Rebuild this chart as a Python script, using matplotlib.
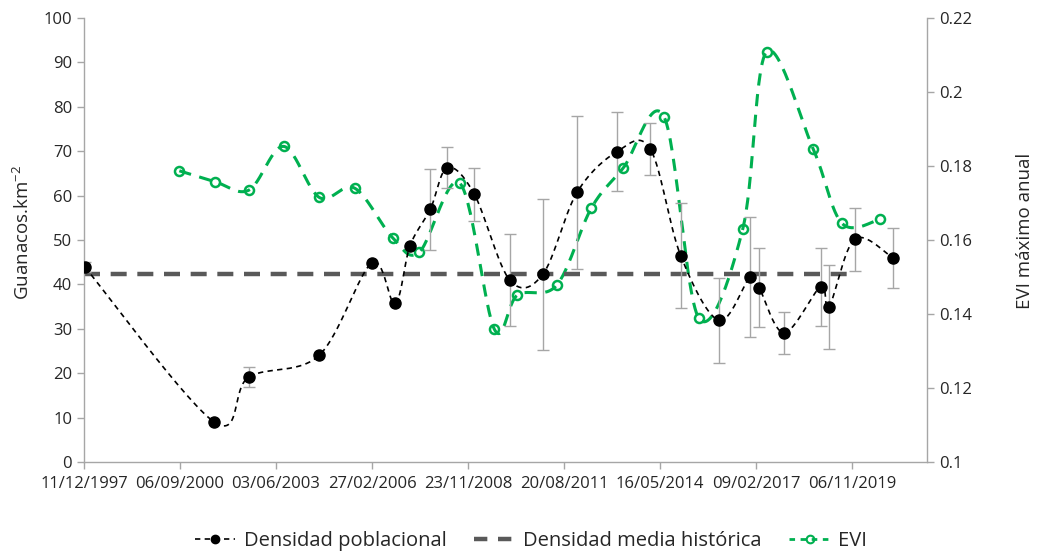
import numpy as np
import pandas as pd
import matplotlib
matplotlib.use("Agg")
import matplotlib.pyplot as plt
from matplotlib.lines import Line2D
from matplotlib.ticker import FixedLocator, FuncFormatter

plt.rcParams['font.family'] = ['Open Sans', 'DejaVu Sans']
plt.rcParams['mathtext.fontset'] = 'custom'
plt.rcParams['mathtext.rm'] = 'Open Sans'
plt.rcParams['mathtext.default'] = 'regular'

# ---- data ----
dens_dates = ['1997-12-21', '2001-08-29', '2002-08-22', '2004-08-24', '2006-02-24',
              '2006-10-25', '2007-03-30', '2007-10-27', '2008-04-22', '2009-01-28',
              '2010-01-31', '2011-01-12', '2012-01-02', '2013-02-22', '2014-02-04',
              '2014-12-17', '2016-01-20', '2016-12-08', '2017-03-12', '2017-11-30',
              '2018-12-15', '2019-03-11', '2019-12-04', '2021-01-03']
dens_values = [43.9, 9.0, 19.1, 24.0, 44.8, 35.7, 48.7, 56.9, 66.3, 60.3,
               41.0, 42.3, 60.7, 69.9, 70.5, 46.5, 31.9, 41.6, 39.3, 29.1,
               39.5, 34.9, 50.2, 46.0]
dens_err = [1.2, 0, 2.3, 0, 0, 0, 0, 9.2, 4.7, 6.0,
            10.3, 17.0, 17.3, 8.9, 5.9, 11.9, 9.5, 13.5, 8.8, 4.7,
            8.8, 9.4, 7.1, 6.8]

evi_dates = ['2000-08-30', '2001-09-02', '2002-08-26', '2003-08-22', '2004-08-27',
             '2005-08-31', '2006-09-30', '2007-07-04', '2008-09-01', '2009-08-24',
             '2010-04-21', '2011-06-05', '2012-05-30', '2013-04-29', '2014-06-27',
             '2015-06-26', '2016-09-23', '2017-05-30', '2018-09-29', '2019-07-25',
             '2020-08-24']
evi_values = [0.1787, 0.1758, 0.1735, 0.1853, 0.1715, 0.1740, 0.1606, 0.1567, 0.1753, 0.1359,
              0.1451, 0.1478, 0.1686, 0.1795, 0.1933, 0.1388, 0.1629, 0.2109, 0.1845, 0.1645,
              0.1656]

mean_dates = ['1997-12-11', '2019-09-29']
mean_value = 42.3

xtick_dates = ['1997-12-11', '2000-09-06', '2003-06-03', '2006-02-27', '2008-11-23',
               '2011-08-20', '2014-05-16', '2017-02-09', '2019-11-06']
x_end_date = '2021-12-26'

# ---- helpers ----
EXCEL0 = pd.Timestamp('1899-12-30')
def serial(dates):
    return np.array([(pd.Timestamp(d) - EXCEL0).days for d in dates], dtype=float)

def smooth(x, y, xr, yr, W, H, n=30):
    # Catmull-Rom style Bezier spline in screen space (Excel "smoothed line")
    px = (np.asarray(x) - xr[0]) / (xr[1] - xr[0]) * W
    py = (np.asarray(y) - yr[0]) / (yr[1] - yr[0]) * H
    P = np.column_stack([px, py])
    P = np.vstack([P[0], P, P[-1]])
    out = []
    for i in range(1, len(P) - 2):
        p0, p1, p2, p3 = P[i - 1], P[i], P[i + 1], P[i + 2]
        c1 = p1 + (p2 - p0) / 6.0
        c2 = p2 - (p3 - p1) / 6.0
        t = np.linspace(0, 1, n)[:, None]
        seg = ((1 - t) ** 3) * p1 + 3 * ((1 - t) ** 2) * t * c1 + 3 * (1 - t) * t ** 2 * c2 + t ** 3 * p2
        out.append(seg if i == 1 else seg[1:])
    S = np.vstack(out)
    sx = S[:, 0] / W * (xr[1] - xr[0]) + xr[0]
    sy = S[:, 1] / H * (yr[1] - yr[0]) + yr[0]
    return sx, sy

# ---- figure ----
fig = plt.figure(figsize=(10.39, 5.57), dpi=100)
ax = fig.add_axes([84 / 1039, 1 - 462 / 557, (927 - 84) / 1039, (462 - 18) / 557])
ax2 = ax.twinx()

xt = serial(xtick_dates)
xr = (xt[0], serial([x_end_date])[0])
yr1 = (0, 100)
yr2 = (0.1, 0.22)
W, H = 843, 444

GRAY_AX = '#A6A6A6'
GREEN = '#00B050'
TXT = '#262626'

dx = serial(dens_dates)
dv = np.array(dens_values)
de = np.array(dens_err)
ex = serial(evi_dates)
ev = np.array(evi_values)
mx = serial(mean_dates)

# mean line
ax.plot(mx, [mean_value, mean_value], color='#595959', lw=3.2, dashes=(3.6, 2.4), zorder=2)

# density smoothed line
sx, sy = smooth(dx, dv, xr, yr1, W, H)
ax.plot(sx, sy, color='black', lw=1.2, dashes=(3.2, 2.6), zorder=3)
m = de > 0
ax.errorbar(dx[m], dv[m], yerr=de[m], fmt='none', ecolor=GRAY_AX, elinewidth=1.0,
            capsize=4, capthick=1.0, zorder=2.5)
ax.plot(dx, dv, 'o', color='black', ms=8, zorder=4)

# EVI
sx2, sy2 = smooth(ex, ev, xr, yr2, W, H)
ax2.plot(sx2, sy2, color=GREEN, lw=2.2, dashes=(4.0, 2.8), zorder=3)
ax2.plot(ex, ev, 'o', mfc='none', mec=GREEN, mew=1.8, ms=6.5, zorder=4)

ax.set_zorder(ax2.get_zorder() + 1)
ax.patch.set_visible(False)

ax.set_xlim(*xr)
ax.set_ylim(*yr1)
ax2.set_ylim(*yr2)

ax.xaxis.set_major_locator(FixedLocator(xt))
ax.xaxis.set_major_formatter(FuncFormatter(lambda v, p: (EXCEL0 + pd.Timedelta(days=int(round(v)))).strftime('%d/%m/%Y')))
ax.set_yticks(np.arange(0, 101, 10))
ax2.set_yticks(np.round(np.arange(0.10, 0.2201, 0.02), 2))
ax2.yaxis.set_major_formatter(FuncFormatter(lambda v, p: f'{v:g}'))

for a in (ax, ax2):
    for s in a.spines.values():
        s.set_color(GRAY_AX)
        s.set_linewidth(1.0)
    a.spines['top'].set_visible(False)
    a.tick_params(colors=GRAY_AX, labelcolor=TXT, labelsize=12, length=5, width=1.0)
ax.spines['right'].set_visible(False)
ax2.spines['left'].set_visible(False)
ax2.spines['bottom'].set_visible(False)
ax.tick_params(axis='x', pad=5)

ax.set_ylabel('Guanacos.km$^{-2}$', fontsize=13.5, color=TXT)
ax.yaxis.set_label_coords(-0.0605, 0.518)
ax2.set_ylabel('EVI máximo anual', fontsize=13.5, color=TXT)
ax2.yaxis.set_label_coords(1.1056, 0.52)

handles = [
    Line2D([], [], color='black', lw=1.2, dashes=(3.2, 2.6), marker='o', ms=6),
    Line2D([], [], color='#595959', lw=3.2, dashes=(3.0, 2.4)),
    Line2D([], [], color=GREEN, lw=2.0, dashes=(2.0, 2.0), marker='o', mfc='none', mec=GREEN, mew=1.5, ms=5.5),
]
labels = ['Densidad poblacional', 'Densidad media histórica', 'EVI']
fig.legend(handles, labels, loc='lower center', bbox_to_anchor=(0.511, -0.022), ncol=3,
           frameon=False, fontsize=14.5, handlelength=2.0, columnspacing=1.4, handletextpad=0.4,
           labelcolor=TXT)

fig.savefig('out.png', dpi=100)
